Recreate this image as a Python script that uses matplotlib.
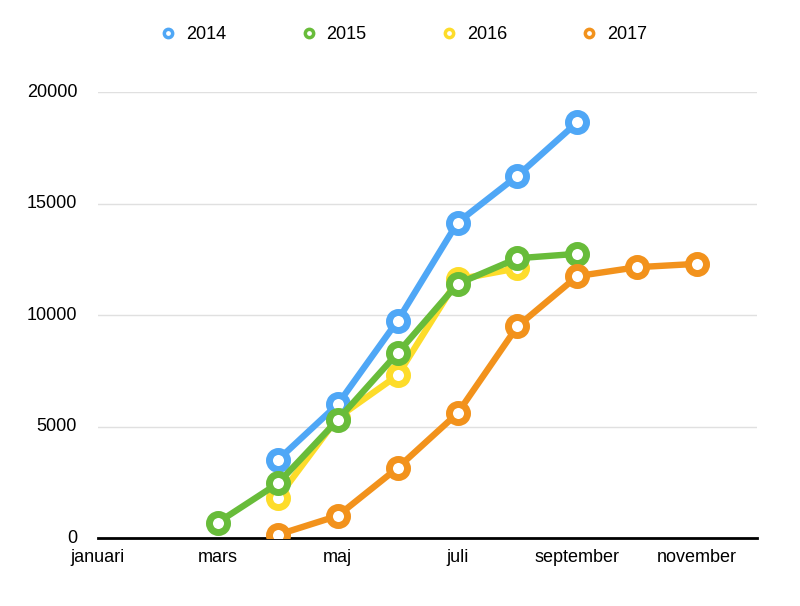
import matplotlib.pyplot as plt
from matplotlib.lines import Line2D
import numpy as np

plt.rcParams.update({
    "font.family": ["Liberation Sans", "DejaVu Sans"],
    "font.size": 13,
})

months = ["januari", "februari", "mars", "april", "maj", "juni", "juli",
          "augusti", "september", "oktober", "november", "december"]
nan = np.nan
y2014 = [nan, nan, nan, 3500, 6000, 9750, 14150, 16250, 18650, nan, nan, nan]
y2015 = [nan, nan, 700, 2450, 5300, 8300, 11400, 12550, 12750, nan, nan, nan]
y2016 = [nan, nan, nan, 1800, 5400, 7300, 11600, 12100, nan, nan, nan, nan]
y2017 = [nan, nan, nan, 150, 1000, 3150, 5600, 9500, 11750, 12150, 12300, nan]

series = [("2014", y2014, "#4FA7F6", 3),
          ("2015", y2015, "#68BC3A", 4),
          ("2016", y2016, "#FDDC2A", 2),
          ("2017", y2017, "#F2921C", 5)]

fig = plt.figure(figsize=(8, 6.06), dpi=100)
ax = fig.add_axes([0.1225, 0.112, 0.824, 0.736])

x = np.arange(len(months))
for name, vals, col, z in series:
    ax.plot(x, vals, color=col, lw=4.6, marker="o", ms=13, mew=5,
            mfc="white", mec=col, zorder=z, solid_capstyle="round")

ax.set_xlim(0, 11)
ax.set_ylim(0, 20000)
ax.set_yticks([0, 5000, 10000, 15000, 20000])
ax.set_yticklabels(["0", "5000", "10000", "15000", "20000"])
ax.set_xticks(x[::2])
ax.set_xticklabels(months[::2])
ax.grid(axis="y", color="#e0e0e0", lw=1)
ax.set_axisbelow(True)
for s in ["top", "right", "left"]:
    ax.spines[s].set_visible(False)
ax.spines["bottom"].set_linewidth(2)
ax.spines["bottom"].set_zorder(1)
ax.tick_params(axis="both", length=0, labelsize=13)
ax.tick_params(axis="x", pad=8)
ax.tick_params(axis="y", pad=15)
for lbl in ax.get_yticklabels():
    lbl.set_verticalalignment("center")

handles = [Line2D([], [], color=col, lw=0, marker="o", ms=6, mew=2.5,
                  mfc="white", mec=col) for _, _, col, _ in series]
fig.legend(handles, [s[0] for s in series], loc="center",
           bbox_to_anchor=(0.503, 0.943), ncol=4, frameon=False,
           columnspacing=3.95, handletextpad=0.4, handlelength=1.2,
           fontsize=13)

fig.savefig("out.png", dpi=100, facecolor="white")
